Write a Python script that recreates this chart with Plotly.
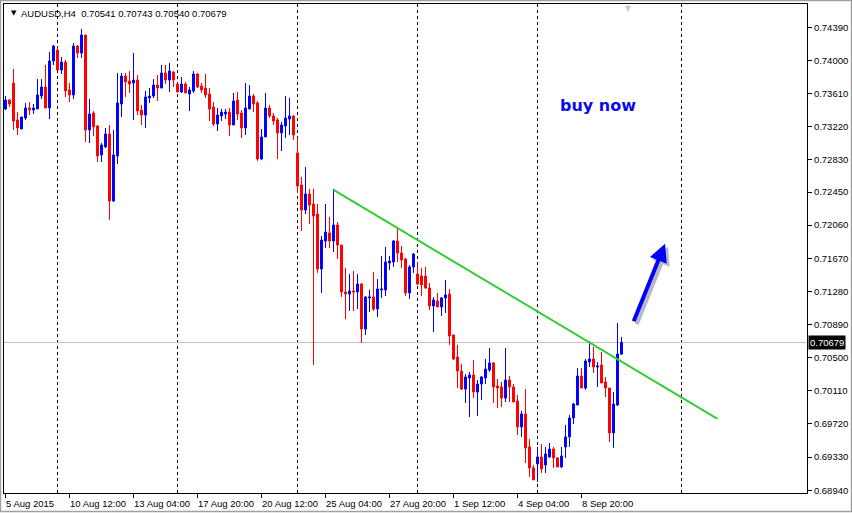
import plotly.graph_objects as go

symbol = "AUDUSD,H4"

opens = [0.73427,0.73533,0.73733,0.73298,0.73192,0.73321,0.73439,0.73415,0.73427,0.73580,
0.73686,0.73439,0.73992,0.74121,0.73886,0.73980,0.73651,0.73592,0.74168,0.74086,
0.74298,0.73180,0.73380,0.73227,0.72886,0.72980,0.73133,0.72344,0.72874,0.73486,
0.73815,0.73756,0.73733,0.73768,0.73415,0.73356,0.73557,0.73580,0.73709,0.73674,
0.73851,0.73768,0.73862,0.73721,0.73627,0.73721,0.73604,0.73639,0.73839,0.73698,
0.73674,0.73604,0.73451,0.73251,0.73345,0.73368,0.73391,0.73239,0.73533,0.73380,
0.73204,0.73427,0.73580,0.73498,0.72839,0.73098,0.73439,0.73345,0.73298,0.73145,
0.73227,0.73309,0.73345,0.72910,0.72533,0.72238,0.72427,0.72309,0.72191,0.71544,
0.71873,0.71968,0.71873,0.72062,0.71826,0.71273,0.71250,0.71285,0.71273,0.71367,
0.70838,0.71203,0.71214,0.71073,0.71297,0.71297,0.71615,0.71626,0.71873,0.71732,
0.71662,0.71262,0.71568,0.71485,0.71461,0.71461,0.71320,0.71108,0.71167,0.71097,
0.71203,0.71250,0.70767,0.70508,0.70343,0.70131,0.70261,0.70296,0.70096,0.70190,
0.70261,0.70355,0.70438,0.70167,0.70155,0.70025,0.70237,0.70155,0.69990,0.69685,
0.69837,0.69449,0.69202,0.69249,0.69331,0.69237,0.69331,0.69425,0.69320,0.69214,
0.69449,0.69567,0.69790,0.69943,0.70284,0.70143,0.70449,0.70485,0.70390,0.70414,
0.70214,0.70143,0.69614,0.69943,0.70541]

highs = [0.73580,0.73545,0.73898,0.73391,0.73333,0.73498,0.73509,0.73486,0.73780,0.73780,
0.73945,0.74097,0.74180,0.74145,0.74039,0.74004,0.73733,0.74204,0.74180,0.74369,
0.74298,0.73545,0.73403,0.73239,0.73027,0.73204,0.73239,0.73180,0.73851,0.73851,
0.73851,0.73874,0.74086,0.73827,0.73474,0.73639,0.73674,0.73780,0.73827,0.73945,
0.73945,0.73969,0.73874,0.73733,0.73804,0.73744,0.73686,0.73874,0.73851,0.73733,
0.73839,0.73674,0.73509,0.73439,0.73427,0.73427,0.73439,0.73616,0.73627,0.73415,
0.73733,0.73709,0.73604,0.73521,0.73192,0.73616,0.73474,0.73380,0.73321,0.73274,
0.73580,0.73557,0.73356,0.73098,0.72627,0.72745,0.72486,0.72486,0.72309,0.71932,
0.72309,0.72156,0.72486,0.72097,0.71826,0.71556,0.71485,0.71521,0.71485,0.71379,
0.71226,0.71297,0.71509,0.71426,0.71697,0.71803,0.71697,0.71885,0.72038,0.71815,
0.71673,0.71591,0.71732,0.71626,0.71556,0.71568,0.71379,0.71214,0.71262,0.71214,
0.71414,0.71309,0.70767,0.70649,0.70426,0.70308,0.70331,0.70473,0.70237,0.70284,
0.70485,0.70614,0.70449,0.70249,0.70214,0.70614,0.70284,0.70190,0.70061,0.69873,
0.70131,0.69543,0.69237,0.69449,0.69484,0.69449,0.69496,0.69449,0.69331,0.69449,
0.69708,0.69826,0.69967,0.70378,0.70378,0.70485,0.70696,0.70626,0.70449,0.70567,
0.70273,0.70143,0.70096,0.70908,0.70743]

lows = [0.73415,0.73451,0.73180,0.73121,0.73192,0.73298,0.73356,0.73368,0.73427,0.73545,
0.73439,0.73309,0.73945,0.73886,0.73839,0.73569,0.73509,0.73545,0.74027,0.74027,
0.73038,0.73027,0.73109,0.72803,0.72803,0.72968,0.72121,0.72332,0.72780,0.73333,
0.73569,0.73616,0.73298,0.73356,0.73239,0.73204,0.73498,0.73557,0.73521,0.73674,
0.73721,0.73627,0.73686,0.73627,0.73616,0.73616,0.73403,0.73616,0.73674,0.73616,
0.73557,0.73286,0.73227,0.73168,0.73286,0.73309,0.73109,0.73239,0.73298,0.73086,
0.73121,0.73427,0.73391,0.72815,0.72827,0.73098,0.73321,0.73239,0.72839,0.72933,
0.73086,0.73121,0.73062,0.72439,0.71991,0.72191,0.72074,0.70414,0.71497,0.71262,
0.71791,0.71791,0.71744,0.71662,0.71214,0.70955,0.71050,0.71050,0.71073,0.70673,
0.70767,0.71038,0.71050,0.70979,0.71203,0.71226,0.71532,0.71568,0.71626,0.71556,
0.71226,0.71191,0.71497,0.71355,0.71226,0.71309,0.71061,0.70802,0.71097,0.70991,
0.71026,0.70649,0.70473,0.70143,0.70120,0.69967,0.69802,0.70025,0.69813,0.70002,
0.70190,0.70331,0.69967,0.69908,0.69920,0.69978,0.69978,0.69978,0.69590,0.69567,
0.69261,0.69096,0.69061,0.69037,0.69143,0.69143,0.69320,0.69202,0.69214,0.69202,
0.69320,0.69449,0.69720,0.69943,0.70143,0.70120,0.70390,0.70320,0.70155,0.70202,
0.70037,0.69508,0.69437,0.69931,0.70540]

closes = [0.73533,0.73486,0.73286,0.73204,0.73333,0.73439,0.73415,0.73439,0.73592,0.73686,
0.73439,0.73992,0.74168,0.73886,0.73980,0.73639,0.73592,0.74168,0.74086,0.74298,
0.73180,0.73368,0.73216,0.72874,0.73003,0.73133,0.72344,0.72886,0.73498,0.73815,
0.73744,0.73721,0.73768,0.73403,0.73356,0.73569,0.73580,0.73709,0.73674,0.73851,
0.73768,0.73874,0.73768,0.73627,0.73721,0.73616,0.73651,0.73839,0.73686,0.73651,
0.73592,0.73427,0.73251,0.73356,0.73391,0.73391,0.73239,0.73521,0.73368,0.73204,
0.73439,0.73580,0.73486,0.72839,0.73098,0.73439,0.73345,0.73286,0.73145,0.73239,
0.73321,0.73345,0.73121,0.72521,0.72238,0.72427,0.72297,0.72168,0.71544,0.71885,
0.71979,0.71873,0.72062,0.71826,0.71273,0.71250,0.71285,0.71273,0.71367,0.70838,
0.71214,0.71214,0.71073,0.71309,0.71309,0.71626,0.71638,0.71873,0.71732,0.71650,
0.71262,0.71568,0.71720,0.71367,0.71355,0.71320,0.71108,0.71179,0.71097,0.71203,
0.71238,0.70755,0.70485,0.70343,0.70131,0.70273,0.70296,0.70096,0.70190,0.70273,
0.70367,0.70438,0.70155,0.70143,0.70025,0.70237,0.70155,0.69978,0.69685,0.69837,
0.69437,0.69202,0.69061,0.69331,0.69190,0.69367,0.69425,0.69320,0.69214,0.69343,
0.69567,0.69790,0.69955,0.70284,0.70143,0.70461,0.70485,0.70390,0.70402,0.70202,
0.70143,0.69614,0.69955,0.70543,0.70679]

bar_index = list(range(len(closes)))

x_tick_index = [0, 16, 32, 48, 64, 80, 96, 112, 128, 144]
x_tick_labels = ["5 Aug 2015", "10 Aug 12:00", "13 Aug 04:00", "17 Aug 20:00", "20 Aug 12:00",
                 "25 Aug 04:00", "27 Aug 20:00", "1 Sep 12:00", "4 Sep 04:00", "8 Sep 20:00"]
grid_index = [13, 43, 73, 103, 133, 169]

y_ticks = [0.68940, 0.69330, 0.69720, 0.70110, 0.70500, 0.70890, 0.71280, 0.71670,
           0.72060, 0.72450, 0.72830, 0.73220, 0.73610, 0.74000, 0.74390]

trend_index = [82, 178]
trend_price = [0.72475, 0.69780]

note_text = "buy now"
note_index, note_price = 148.1, 0.73468
arrow_index, arrow_price = 164.9, 0.71842

x_range = [-0.375, 200.375]
y_range = [0.68907, 0.74663]

FONT = "Liberation Sans"
fig = go.Figure()

fig.add_trace(go.Candlestick(
    x=bar_index, open=opens, high=highs, low=lows, close=closes,
    increasing=dict(line=dict(color="#0000ff", width=1), fillcolor="#0000ff"),
    decreasing=dict(line=dict(color="#ff0000", width=1), fillcolor="#ff0000"),
    whiskerwidth=0, hoverinfo="skip", showlegend=False,
))

fig.add_trace(go.Scatter(
    x=trend_index, y=trend_price, mode="lines",
    line=dict(color="#32cd32", width=2), hoverinfo="skip", showlegend=False,
))

shapes = []
for g in grid_index:
    shapes.append(dict(type="line", xref="x", yref="paper", x0=g, x1=g, y0=0, y1=1,
                       line=dict(color="black", width=1, dash="3px,3px"), layer="below"))
shapes.append(dict(type="line", xref="paper", yref="y", x0=0, x1=1, y0=closes[-1], y1=closes[-1],
                   line=dict(color="#c0c0c0", width=1), layer="below"))
# window frame
shapes.append(dict(type="rect", xref="paper", yref="paper", x0=-0.0044, x1=1.0554, y0=-0.0378, y1=1.0072,
                   line=dict(color="#a0a0a0", width=1.5), layer="below"))

annotations = []
for xi, lab in zip(x_tick_index, x_tick_labels):
    annotations.append(dict(x=xi, y=0, xref="x", yref="paper", text=lab, showarrow=False,
                            xanchor="left", yanchor="middle", yshift=-10, xshift=-1, borderpad=0,
                            font=dict(family=FONT, size=9.5, color="black")))

header = "%s  %.5f %.5f %.5f %.5f" % (symbol, opens[-1], highs[-1], lows[-1], closes[-1])
annotations.append(dict(x=0, y=1, xref="paper", yref="paper", text=header, showarrow=False,
                        xanchor="left", yanchor="middle", xshift=16, yshift=-9, borderpad=0,
                        font=dict(family=FONT, size=9.5, color="black")))
annotations.append(dict(x=0, y=1, xref="paper", yref="paper", text="▼", showarrow=False,
                        xanchor="left", yanchor="middle", xshift=6, yshift=-9, borderpad=0,
                        font=dict(family="DejaVu Sans", size=7, color="black")))
annotations.append(dict(x=0.7771, y=1, xref="paper", yref="paper", text="▼", showarrow=False,
                        xanchor="center", yanchor="top", yshift=1, borderpad=0,
                        font=dict(family="DejaVu Sans", size=8, color="#c8c8c8")))

annotations.append(dict(x=note_index, y=note_price, xref="x", yref="y", text="<b>%s</b>" % note_text,
                        showarrow=False, xanchor="center", yanchor="middle",
                        font=dict(family="DejaVu Sans", size=16, color="#0a0af0")))

# arrow shadow then arrow
annotations.append(dict(x=arrow_index, y=arrow_price, xref="x", yref="y", text="", showarrow=True,
                        ax=-32, ay=79, arrowhead=2, arrowsize=0.9, arrowwidth=4, arrowcolor="#b8b8c8",
                        xshift=3, yshift=-3))
annotations.append(dict(x=arrow_index, y=arrow_price, xref="x", yref="y", text="", showarrow=True,
                        ax=-32, ay=79, arrowhead=2, arrowsize=0.9, arrowwidth=4, arrowcolor="#0000ff"))

annotations.append(dict(x=1, y=closes[-1], xref="paper", yref="y", text="%.5f" % closes[-1],
                        showarrow=False, xanchor="left", yanchor="middle", xshift=1,
                        bgcolor="black", borderpad=1,
                        font=dict(family=FONT, size=9.5, color="white")))

fig.update_layout(
    width=852, height=513,
    margin=dict(l=4, r=45, t=4, b=20),
    paper_bgcolor="white", plot_bgcolor="white",
    shapes=shapes, annotations=annotations,
    showlegend=False,
    xaxis=dict(range=x_range, tickvals=x_tick_index, ticktext=[""] * len(x_tick_index),
               ticks="outside", ticklen=4, tickcolor="black", showgrid=False, zeroline=False,
               showline=True, mirror=True, linecolor="black", linewidth=1,
               rangeslider=dict(visible=False), fixedrange=True),
    yaxis=dict(range=y_range, side="right", tickvals=y_ticks,
               ticktext=["%.5f" % v for v in y_ticks], ticks="outside", ticklen=4,
               tickcolor="black", showgrid=False, zeroline=False, showline=True, mirror=True,
               linecolor="black", linewidth=1, fixedrange=True,
               tickfont=dict(family=FONT, size=9.5, color="black")),
)

fig.write_html("out.html", config={"displayModeBar": False},
               post_script="document.body.style.margin='0';document.body.style.padding='0';")
